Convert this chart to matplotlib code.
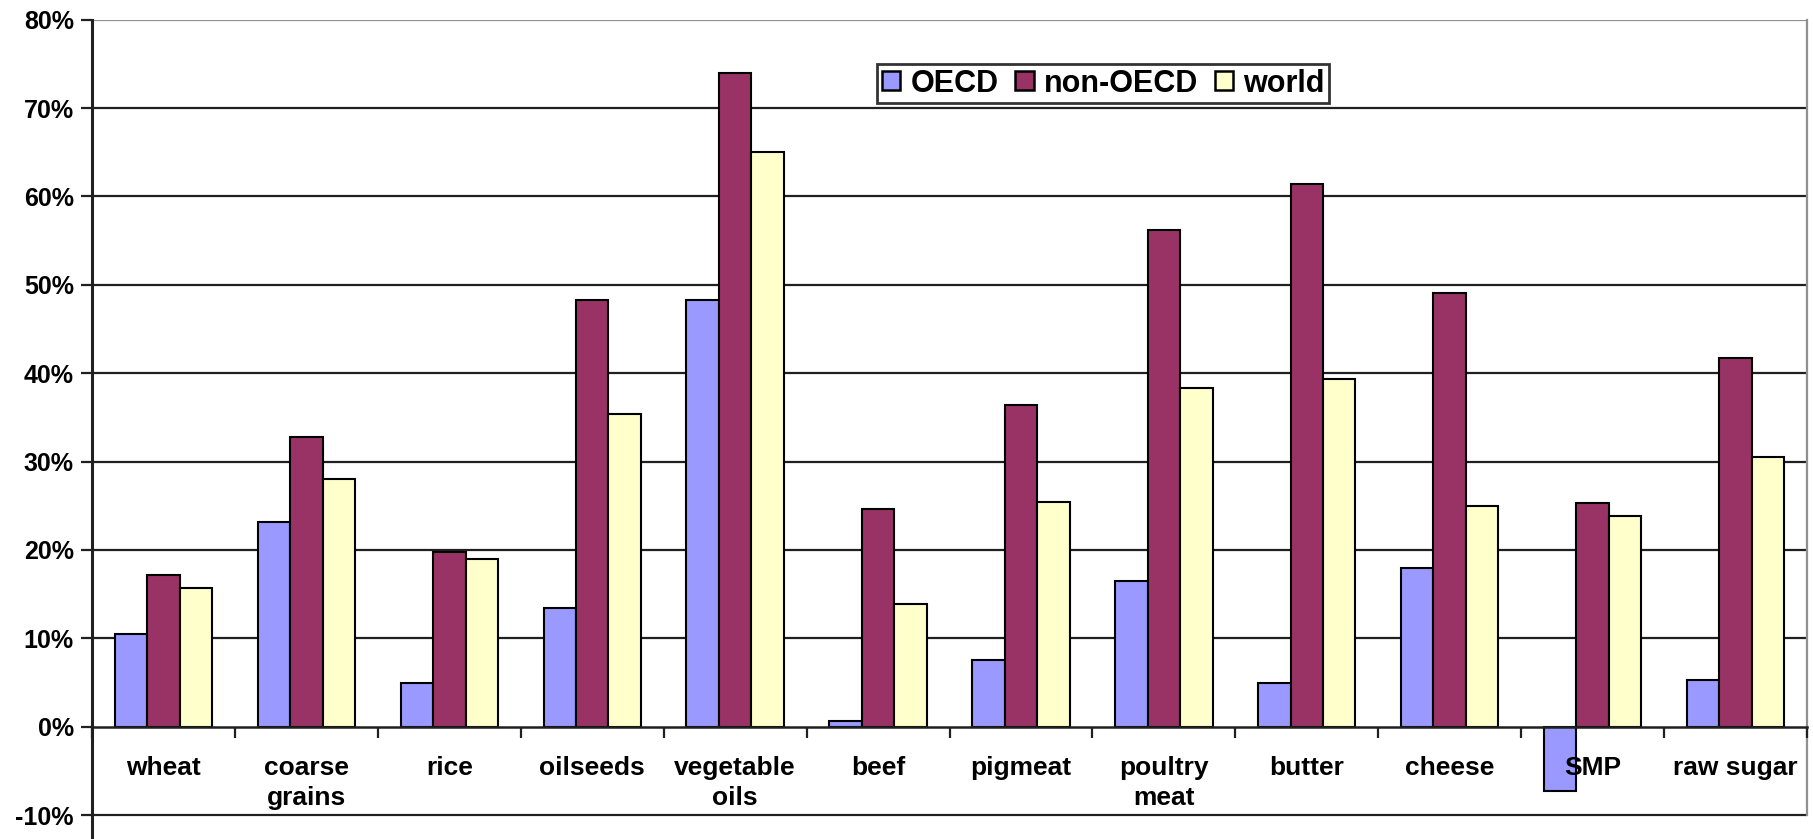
import matplotlib
matplotlib.use("Agg")
import matplotlib.pyplot as plt
import numpy as np
from matplotlib.patches import Patch

categories = ["wheat", "coarse\ngrains", "rice", "oilseeds", "vegetable\noils", "beef",
              "pigmeat", "poultry\nmeat", "butter", "cheese", "SMP", "raw sugar"]
oecd = [10.5, 23.2, 4.9, 13.4, 48.3, 0.7, 7.5, 16.5, 4.9, 18.0, -7.3, 5.3]
non_oecd = [17.2, 32.8, 19.8, 48.3, 74.0, 24.6, 36.4, 56.2, 61.4, 49.1, 25.3, 41.7]
world = [15.7, 28.0, 19.0, 35.4, 65.0, 13.9, 25.4, 38.3, 39.4, 25.0, 23.9, 30.5]
series_names = ["OECD", "non-OECD", "world"]
series_colors = ["#9999FF", "#993366", "#FFFFCC"]
yticks = [-10, 0, 10, 20, 30, 40, 50, 60, 70, 80]

plt.rcParams['font.family'] = ['Liberation Sans', 'DejaVu Sans']

W, H = 1813, 839
fig = plt.figure(figsize=(W / 100, H / 100), dpi=100)
x0, x1 = 92, 1807
ytop = 19.7
ax = fig.add_axes([x0 / W, 0, (x1 - x0) / W, (H - ytop) / H])

n = len(categories)
x = np.arange(n)
bw = 0.227
for i, (vals, c) in enumerate(zip([oecd, non_oecd, world], series_colors)):
    ax.bar(x + (i - 1) * bw, vals, width=bw, color=c, edgecolor="black",
           linewidth=1.5, zorder=1)

ax.set_xlim(-0.5, n - 0.5)
ax.set_ylim(-12.7, 80)

ax.spines["bottom"].set_position(("data", 0))
ax.spines["bottom"].set_linewidth(1.8)
ax.spines["bottom"].set_color("#202020")
ax.spines["bottom"].set_zorder(4)
ax.spines["left"].set_linewidth(2.2)
ax.spines["left"].set_color("#202020")
ax.spines["top"].set_visible(False)
ax.spines["right"].set_color("#909090")
ax.spines["right"].set_linewidth(1.6)
ax.spines["right"].set_bounds(-10, 80)

# gridlines
for t in yticks:
    if t == 0:
        continue
    col = "#909090" if t == 80 else "#202020"
    ax.axhline(t, color=col, linewidth=1.6, zorder=0.5)

ax.set_yticks(yticks)
ax.set_yticklabels([f"{t}%" for t in yticks], fontsize=18, fontweight="bold")
ax.tick_params(axis="y", direction="out", length=8, width=1.6, pad=5, color="#202020")

ax.set_xticks(x)
ax.set_xticklabels(categories, fontsize=19, fontweight="bold", linespacing=1.3)
ax.set_xticks(np.arange(n + 1) - 0.5, minor=True)
ax.tick_params(axis="x", which="major", length=0, pad=21)
ax.tick_params(axis="x", which="minor", direction="out", length=8, width=1.6, color="#202020")
ax.xaxis.set_zorder(5)

handles = [Patch(facecolor=c, edgecolor="black", linewidth=1.8) for c in series_colors]
leg = ax.legend(handles, series_names, loc="upper left", bbox_to_anchor=(0.458, 0.946),
                ncol=3, frameon=True, fancybox=False, borderaxespad=0,
                prop={"size": 22, "weight": "bold"},
                handlelength=0.6, handleheight=0.6, handletextpad=0.33, columnspacing=0.55,
                borderpad=0.15)
leg.get_frame().set_edgecolor("black")
leg.get_frame().set_linewidth(2.0)
leg.set_zorder(6)

fig.savefig("out.png", dpi=100)
